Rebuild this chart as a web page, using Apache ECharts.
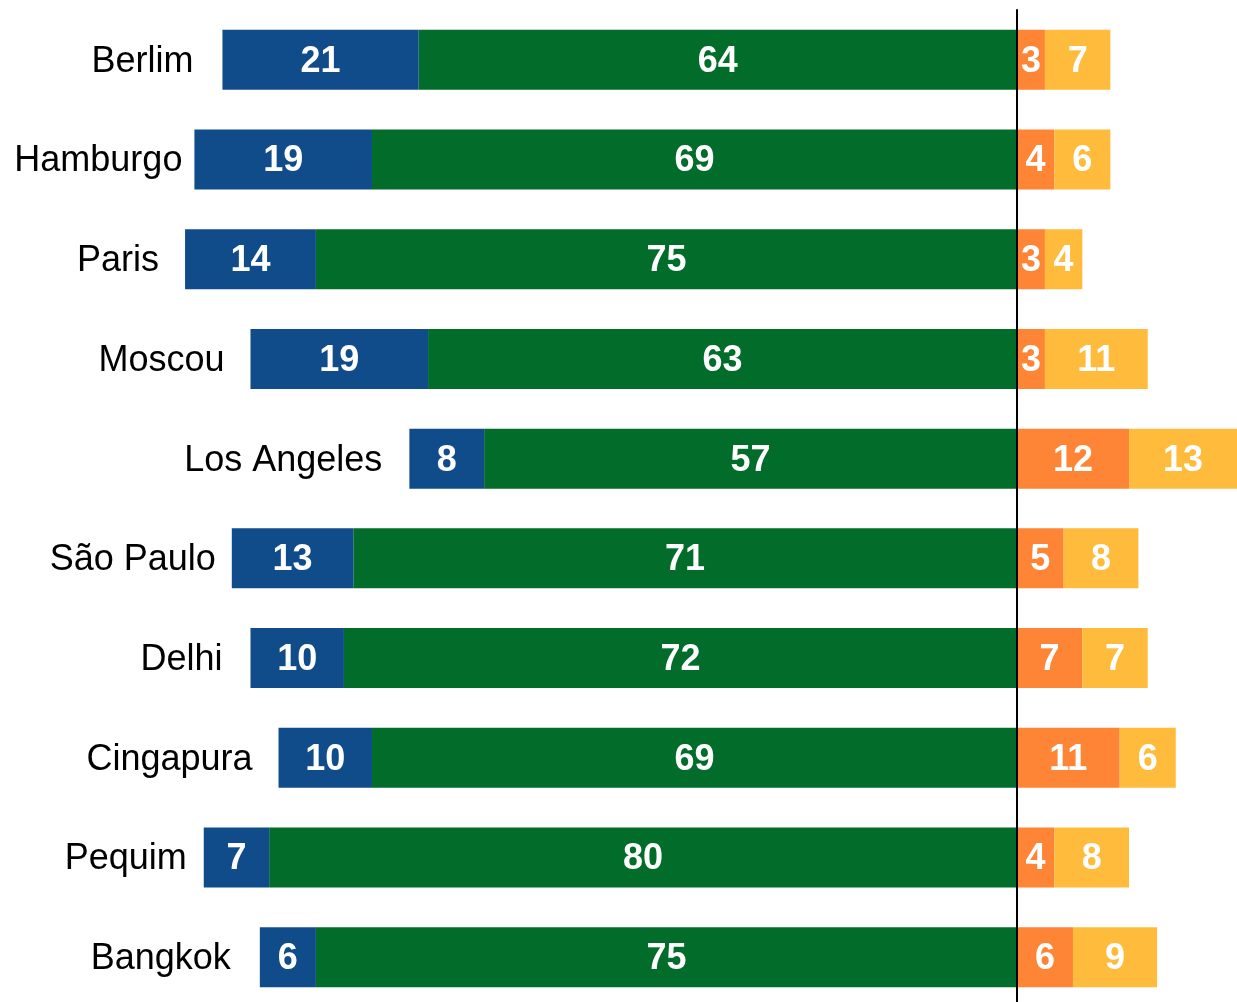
<!DOCTYPE html>
<html>
<head>
<meta charset="utf-8">
<script src="https://cdn.jsdelivr.net/npm/echarts@6/dist/echarts.min.js"></script>
<style>
  html, body { margin: 0; padding: 0; background: #fff; overflow: hidden; }
  #chart { width: 1237px; height: 1007px; }
</style>
</head>
<body>
<div id="chart"></div>
<script>
// Cities, top to bottom
const cities = ['Berlim', 'Hamburgo', 'Paris', 'Moscou', 'Los Angeles', 'São Paulo', 'Delhi', 'Cingapura', 'Pequim', 'Bangkok'];

// Shares (%) drawn left of the zero line
const blueValues  = [21, 19, 14, 19, 8, 13, 10, 10, 7, 6];
const greenValues = [64, 69, 75, 63, 57, 71, 72, 69, 80, 75];

// Shares (%) drawn right of the zero line
const orangeValues = [3, 4, 3, 3, 12, 5, 7, 11, 4, 6];
const yellowValues = [7, 6, 4, 11, 13, 8, 7, 6, 8, 9];

// Gap between each city name and the left end of its bar (px)
const nameGaps = [29, 12, 26, 26, 27, 16, 28, 26, 17, 29];

const FONT = '"Liberation Sans", Arial, Helvetica, sans-serif';

const valueLabel = {
  show: true,
  position: 'inside',
  color: '#ffffff',
  fontFamily: FONT,
  fontWeight: 'bold',
  fontSize: 36,
  offset: [0, 2],
  formatter: p => String(Math.abs(p.value))
};

function barSeries(name, values, color, sign) {
  return {
    name,
    type: 'bar',
    stack: 'total',
    barWidth: 60,
    data: values.map(v => sign * v),
    itemStyle: { color },
    label: valueLabel,
    emphasis: { disabled: true },
    z: 2
  };
}

const nameLabel = {
  show: true,
  position: 'left',
  color: '#000000',
  opacity: 1,
  textBorderWidth: 0,
  fontFamily: FONT,
  fontSize: 36,
  offset: [0, 2]
};

const chart = echarts.init(document.getElementById('chart'), null, { renderer: 'canvas' });

chart.setOption({
  animation: false,
  backgroundColor: '#ffffff',
  grid: { left: 0, right: 0, top: 10, bottom: 0, containLabel: false },
  xAxis: {
    type: 'value',
    min: -108.8,
    max: 23.55,
    show: false,
    splitLine: { show: false }
  },
  yAxis: {
    type: 'category',
    data: cities,
    inverse: true,
    z: 10,
    axisLine: { show: true, onZero: true, lineStyle: { color: '#000000', width: 2 } },
    axisTick: { show: false },
    axisLabel: { show: false },
    splitLine: { show: false }
  },
  series: [
    barSeries('green', greenValues, '#026d2b', -1),
    barSeries('blue', blueValues, '#104c8a', -1),
    barSeries('orange', orangeValues, '#fe8535', 1),
    barSeries('yellow', yellowValues, '#ffbb3c', 1),
    {
      // City names sit just left of each bar's far end
      name: 'cities',
      type: 'scatter',
      symbolSize: 0,
      silent: true,
      itemStyle: { opacity: 1 },
      emphasis: { disabled: true },
      data: cities.map((c, i) => ({
        value: [-(blueValues[i] + greenValues[i]), c],
        label: Object.assign({}, nameLabel, { distance: nameGaps[i], formatter: c })
      })),
      label: nameLabel,
      z: 3
    }
  ]
});
</script>
</body>
</html>
